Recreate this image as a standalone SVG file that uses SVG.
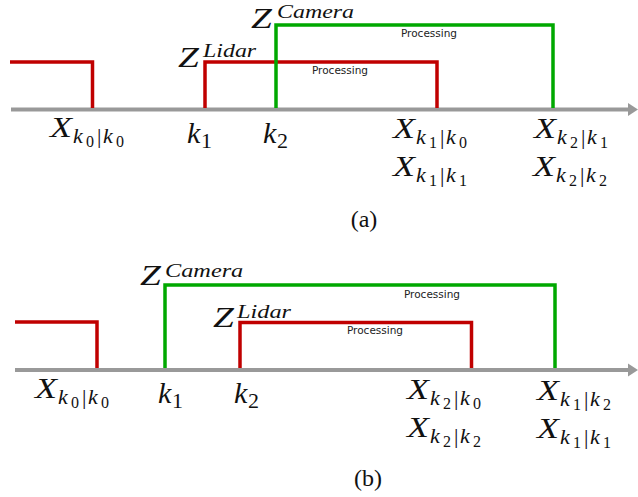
<svg xmlns="http://www.w3.org/2000/svg" width="638" height="497" viewBox="0 0 638 497">
<defs>
<style>
.m{font-family:"Liberation Serif",serif;font-style:italic;font-size:30px;fill:#111}
.s{font-family:"Liberation Serif",serif;font-style:italic;font-size:22px;fill:#111}
.sup{font-family:"Liberation Serif",serif;font-style:italic;font-size:18px;fill:#111}
.ss{font-style:normal;font-size:16px}
.r{font-style:normal}
.cap{font-family:"Liberation Serif",serif;font-size:24px;fill:#111;text-anchor:middle}
.p{font-family:"DejaVu Sans",sans-serif;font-size:10.5px;fill:#222;text-anchor:middle}
.axis{stroke:#999;stroke-width:4;fill:none}
.red{stroke:#c00000;stroke-width:3.5;fill:none}
.grn{stroke:#00a800;stroke-width:3.5;fill:none}
</style>
<marker id="ah" markerUnits="userSpaceOnUse" markerWidth="12" markerHeight="14" refX="0" refY="7" orient="auto">
<path d="M0,0.5 L10,7 L0,13.5 Z" fill="#999"/>
</marker>
</defs>
<rect width="638" height="497" fill="#fff"/>
<g id="connectors">
<line class="axis" x1="11" y1="109.5" x2="628" y2="109.5" marker-end="url(#ah)"/>
<path class="red" d="M10,62 H92.5 V108"/>
<path class="red" d="M205,108 V62 H437 V108"/>
<path class="grn" d="M276,108 V25 H553 V108"/>
<line class="axis" x1="15" y1="370" x2="628" y2="370" marker-end="url(#ah)"/>
<path class="red" d="M15,322 H97 V368"/>
<path class="grn" d="M165,368 V285 H555 V368"/>
<path class="red" d="M240,368 V322.5 H471.5 V368"/>
</g>
<g id="panel-a">
<g id="a-proc-cam"><text class="p" x="429" y="37">Processing</text></g>
<g id="a-proc-lid"><text class="p" x="340" y="74">Processing</text></g>
<g id="a-zcam"><text class="m" transform="translate(251,28) scale(1.25,1)">Z</text><text class="sup" transform="translate(277,18) scale(1.33,1)">Camera</text></g>
<g id="a-zlid"><text class="m" transform="translate(178,67) scale(1.25,1)">Z</text><text class="sup" transform="translate(203,57) scale(1.33,1)">Lidar</text></g>
<g id="a-x00"><text class="m" transform="translate(50,137) scale(1.2,1)">X</text><text class="s"><tspan x="73" y="143">k</tspan><tspan class="ss" x="86" y="147">0</tspan><tspan class="r" x="97" y="143">|</tspan><tspan x="103" y="143">k</tspan><tspan class="ss" x="116" y="147">0</tspan></text></g>
<g id="a-k1"><text class="m" x="187" y="143">k</text><text class="s r" x="201" y="148">1</text></g>
<g id="a-k2"><text class="m" x="263" y="143">k</text><text class="s r" x="277" y="148">2</text></g>
<g id="a-x10"><text class="m" transform="translate(393,138) scale(1.2,1)">X</text><text class="s"><tspan x="416" y="144">k</tspan><tspan class="ss" x="429" y="148">1</tspan><tspan class="r" x="440" y="144">|</tspan><tspan x="446" y="144">k</tspan><tspan class="ss" x="459" y="148">0</tspan></text></g>
<g id="a-x11"><text class="m" transform="translate(393,176) scale(1.2,1)">X</text><text class="s"><tspan x="416" y="182">k</tspan><tspan class="ss" x="429" y="186">1</tspan><tspan class="r" x="440" y="182">|</tspan><tspan x="446" y="182">k</tspan><tspan class="ss" x="459" y="186">1</tspan></text></g>
<g id="a-x21"><text class="m" transform="translate(534,138) scale(1.2,1)">X</text><text class="s"><tspan x="557" y="144">k</tspan><tspan class="ss" x="570" y="148">2</tspan><tspan class="r" x="581" y="144">|</tspan><tspan x="587" y="144">k</tspan><tspan class="ss" x="600" y="148">1</tspan></text></g>
<g id="a-x22"><text class="m" transform="translate(533,176) scale(1.2,1)">X</text><text class="s"><tspan x="556" y="182">k</tspan><tspan class="ss" x="569" y="186">2</tspan><tspan class="r" x="580" y="182">|</tspan><tspan x="586" y="182">k</tspan><tspan class="ss" x="599" y="186">2</tspan></text></g>
<g id="a-caption"><text class="cap" x="364" y="227">(a)</text></g>
</g>
<g id="panel-b">
<g id="b-proc-cam"><text class="p" x="432" y="298">Processing</text></g>
<g id="b-proc-lid"><text class="p" x="375" y="334">Processing</text></g>
<g id="b-zcam"><text class="m" transform="translate(140,285) scale(1.25,1)">Z</text><text class="sup" transform="translate(165,277) scale(1.35,1)">Camera</text></g>
<g id="b-zlid"><text class="m" transform="translate(213,327) scale(1.25,1)">Z</text><text class="sup" transform="translate(237,318) scale(1.35,1)">Lidar</text></g>
<g id="b-x00"><text class="m" transform="translate(35,398) scale(1.2,1)">X</text><text class="s"><tspan x="58" y="404">k</tspan><tspan class="ss" x="71" y="408">0</tspan><tspan class="r" x="82" y="404">|</tspan><tspan x="88" y="404">k</tspan><tspan class="ss" x="101" y="408">0</tspan></text></g>
<g id="b-k1"><text class="m" x="158" y="403">k</text><text class="s r" x="172" y="408">1</text></g>
<g id="b-k2"><text class="m" x="234" y="403">k</text><text class="s r" x="248" y="408">2</text></g>
<g id="b-x20"><text class="m" transform="translate(407,399) scale(1.2,1)">X</text><text class="s"><tspan x="430" y="405">k</tspan><tspan class="ss" x="443" y="409">2</tspan><tspan class="r" x="454" y="405">|</tspan><tspan x="460" y="405">k</tspan><tspan class="ss" x="473" y="409">0</tspan></text></g>
<g id="b-x22"><text class="m" transform="translate(407,437) scale(1.2,1)">X</text><text class="s"><tspan x="430" y="443">k</tspan><tspan class="ss" x="443" y="447">2</tspan><tspan class="r" x="454" y="443">|</tspan><tspan x="460" y="443">k</tspan><tspan class="ss" x="473" y="447">2</tspan></text></g>
<g id="b-x12"><text class="m" transform="translate(537,400) scale(1.2,1)">X</text><text class="s"><tspan x="560" y="406">k</tspan><tspan class="ss" x="573" y="410">1</tspan><tspan class="r" x="584" y="406">|</tspan><tspan x="590" y="406">k</tspan><tspan class="ss" x="603" y="410">2</tspan></text></g>
<g id="b-x11"><text class="m" transform="translate(537,438) scale(1.2,1)">X</text><text class="s"><tspan x="560" y="444">k</tspan><tspan class="ss" x="573" y="448">1</tspan><tspan class="r" x="584" y="444">|</tspan><tspan x="590" y="444">k</tspan><tspan class="ss" x="603" y="448">1</tspan></text></g>
<g id="b-caption"><text class="cap" x="368" y="486">(b)</text></g>
</g>
</svg>
